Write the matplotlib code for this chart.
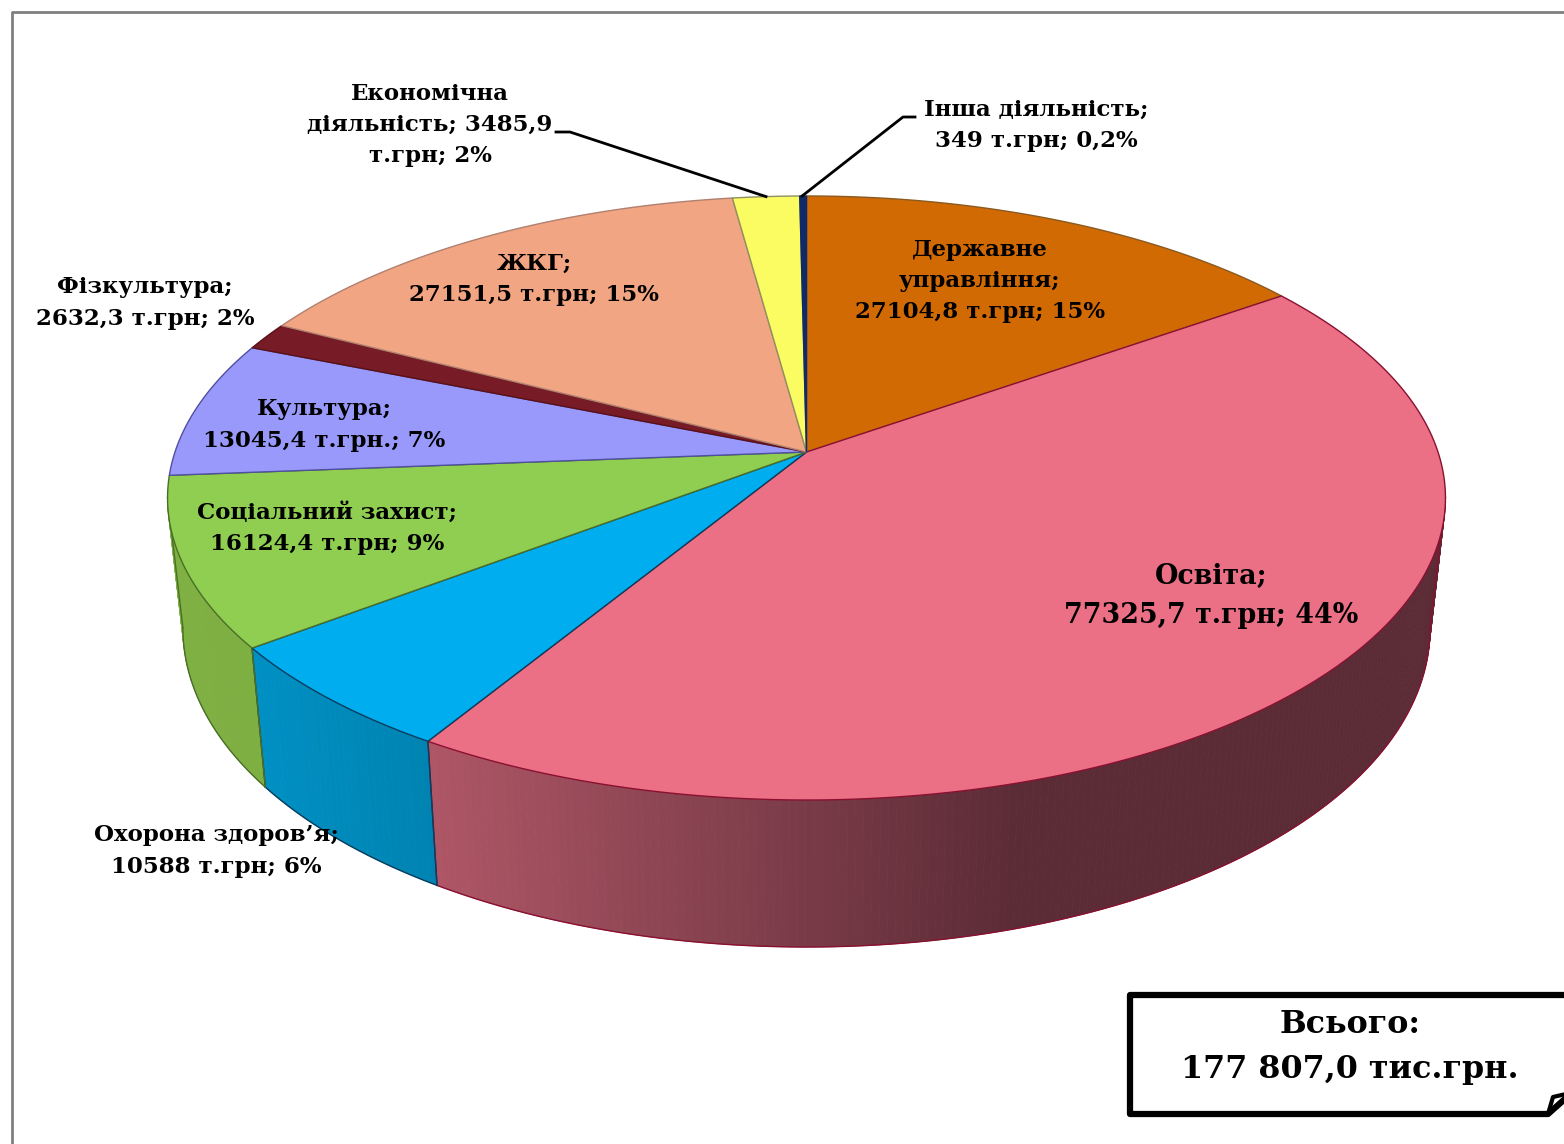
"""Budget expenditure 3D pie, drawn as a perspective-projected disc."""
import numpy as np
import matplotlib
matplotlib.use("Agg")
import matplotlib.pyplot as plt
from matplotlib.colors import to_rgb
from matplotlib.patches import Polygon

categories = ["Державне управління", "Освіта", "Охорона здоров'я", "Соціальний захист",
              "Культура", "Фізкультура", "ЖКГ", "Економічна діяльність", "Інша діяльність"]
values = [27104.8, 77325.7, 10588, 16124.4, 13045.4, 2632.3, 27151.5, 3485.9, 349]
top_colors = ["#D26A04", "#EB7086", "#00ADEE", "#8FCE50", "#9999FB", "#771C26",
              "#F2A582", "#FBFB62", "#0F2A66"]
edge_colors = ["#8A5A20", "#8A1030", "#0A3D5E", "#4A6E28", "#5050A0", "#5A1018",
               "#B08070", "#909060", "#0F2A66"]
# side shading: colour at the left end, colour at the right end of the gradient
side_left = ["#A85A04", "#AE5666", "#0096CC", "#7FB042", "#7070C0", "#5A1018",
             "#C08060", "#C0C050", "#0F2A66"]
side_right = ["#A85A04", "#5C2C36", "#0082B0", "#7DAC40", "#7070C0", "#5A1018",
              "#C08060", "#C0C050", "#0F2A66"]

label_texts = [
    "Державне\nуправління;\n27104,8 т.грн; 15%",
    "Освіта;\n77325,7 т.грн; 44%",
    "Охорона здоров’я;\n10588 т.грн; 6%",
    "Соціальний захист;\n16124,4 т.грн; 9%",
    "Культура;\n13045,4 т.грн.; 7%",
    "Фізкультура;\n2632,3 т.грн; 2%",
    "ЖКГ;\n27151,5 т.грн; 15%",
    "Економічна\nдіяльність; 3485,9\nт.грн; 2%",
    "Інша діяльність;\n349 т.грн; 0,2%",
]
label_pos = [(980, 281), (1211, 596), (216, 851), (327, 528), (324, 425), (145, 303),
             (534, 279), (430, 125), (1036, 125)]
label_size = [16.5, 19.4, 16.5, 16.5, 16.5, 16.5, 16.5, 16.5, 16.5]

total_label = "Всього:\n177 807,0 тис.грн."

# disc geometry in picture pixels
APEX_X, APEX_Y = 806.5, 452
RADIUS_X, RADIUS_Y, PERSP = 631.5, 295.0, 0.1523
RIM_SCALE = 0.976
WALL_H, WALL_D = 127, 20
# the wall can only be seen between the two silhouette angles
WALL_FROM, WALL_TO = np.radians(98.7), np.radians(261.3)


def on_top(theta):
    """Project a disc angle (clockwise from 12 o'clock) on the top face."""
    w = 1 + PERSP * np.cos(theta)
    return APEX_X + RADIUS_X * np.sin(theta) / w, APEX_Y - RADIUS_Y * np.cos(theta) / w


def on_bottom(theta):
    x, y = on_top(theta)
    return APEX_X + (x - APEX_X) * RIM_SCALE, y + WALL_H - WALL_D * np.cos(theta)


def side_color(x, i):
    # the pink wall fades over most of its width, the others only a little
    if i == 1:
        t = np.clip((x - 428) / (1010 - 428), 0, 1)
    else:
        t = np.clip((x - 170) / 270, 0, 1)
    a, b = np.array(to_rgb(side_left[i])), np.array(to_rgb(side_right[i]))
    return a + (b - a) * t


fig = plt.figure(figsize=(15.64, 11.44), dpi=100)
ax = fig.add_axes([0, 0, 1, 1])
ax.set_xlim(0, 1564)
ax.set_ylim(1144, 0)
ax.axis("off")
plt.rcParams["font.family"] = ["DejaVu Serif"]

# outer frame, only top and left are in the crop
ax.plot([12, 12, 1564], [1144, 12, 12], color="#808080", lw=2.0)

edges = 2 * np.pi * np.cumsum([0] + values) / sum(values)

# side wall first, the top face covers what is behind it
for i in range(len(values)):
    a0, a1 = max(edges[i], WALL_FROM), min(edges[i + 1], WALL_TO)
    if a1 <= a0:
        continue
    steps = np.linspace(a0, a1, max(3, int((a1 - a0) * 90)))
    for s0, s1 in zip(steps[:-1], steps[1:]):
        tx, ty = on_top(np.array([s0, s1]))
        bx, by = on_bottom(np.array([s1, s0]))
        c = side_color(tx.mean(), i)
        ax.add_patch(Polygon(list(zip(tx, ty)) + list(zip(bx, by)), closed=True,
                             facecolor=c, edgecolor=c, lw=0.6, zorder=2))
    bx, by = on_bottom(np.linspace(a0, a1, 200))
    ax.plot(bx, by, color=edge_colors[i], lw=1.0, zorder=3)
    for a in (a0, a1):
        tx, ty = on_top(a)
        bx, by = on_bottom(a)
        ax.plot([tx, bx], [ty, by], color=edge_colors[i], lw=1.0, zorder=3)

# top face
for i in range(len(values)):
    th = np.linspace(edges[i], edges[i + 1], 300)
    x, y = on_top(th)
    pts = [(APEX_X, APEX_Y)] + list(zip(x, y))
    ax.add_patch(Polygon(pts, closed=True, facecolor=top_colors[i], edgecolor=edge_colors[i],
                         lw=1.0, joinstyle="round", zorder=4))

# labels
for text, (x, y), size in zip(label_texts, label_pos, label_size):
    ax.text(x, y, text, ha="center", va="center", fontsize=size, fontweight="bold",
            color="black", linespacing=1.54, zorder=6)

# leader lines for the two thin slices
mx, my = on_top((edges[7] + edges[8]) / 2)
ax.plot([556, 570, mx], [132, 132, my], color="black", lw=2.0, zorder=5)
mx, my = on_top((edges[8] + edges[9]) / 2)
ax.plot([915, 903, mx - 1], [117, 117, my], color="black", lw=2.0, zorder=5)

# total box with the folded corner cut by the right edge
ax.plot([1566, 1130, 1130, 1548, 1566], [995, 995, 1114, 1114, 1098], color="black", lw=4.5,
        solid_joinstyle="round", zorder=5)
ax.plot([1548, 1553, 1566], [1114, 1097, 1094], color="black", lw=3.0, zorder=5)
ax.text(1350, 1047, total_label, ha="center", va="center", fontsize=22.9, fontweight="bold",
        color="black", linespacing=1.58, zorder=6)

fig.savefig("out.png", dpi=100)
